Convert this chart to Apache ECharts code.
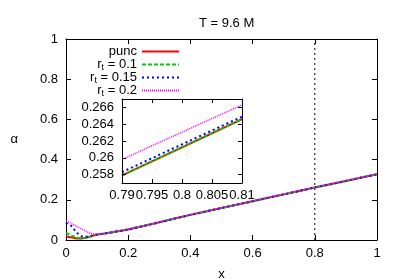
<!DOCTYPE html>
<html><head><meta charset="utf-8">
<script src="https://cdn.jsdelivr.net/npm/echarts@6/dist/echarts.min.js"></script>
<style>html,body{margin:0;padding:0;background:#fff}#c{width:399px;height:279px}</style>
</head><body><div id="c"></div>
<script>
// ---- data ----
const xMain   = [0, 0.01, 0.02, 0.03, 0.04, 0.05, 0.06, 0.07, 0.08, 0.1, 0.12, 0.15, 0.2, 0.25, 0.3, 0.4, 0.5, 0.6, 0.7, 0.8, 0.9, 1.0];
const yPunc   = [0.017, 0.015, 0.012, 0.009, 0.008, 0.008, 0.010, 0.013, 0.018, 0.026, 0.031, 0.039, 0.052, 0.070, 0.088, 0.125, 0.159, 0.193, 0.227, 0.261, 0.294, 0.327];
const yR01    = [0.036, 0.028, 0.020, 0.014, 0.010, 0.009, 0.010, 0.014, 0.018, 0.026, 0.031, 0.039, 0.052, 0.070, 0.088, 0.125, 0.159, 0.193, 0.227, 0.261, 0.294, 0.327];
const yR015   = [0.085, 0.078, 0.066, 0.045, 0.030, 0.019, 0.016, 0.018, 0.021, 0.028, 0.032, 0.039, 0.052, 0.070, 0.088, 0.125, 0.159, 0.193, 0.227, 0.2615, 0.294, 0.327];
const yR02    = [0.094, 0.088, 0.080, 0.072, 0.063, 0.055, 0.047, 0.039, 0.033, 0.029, 0.031, 0.040, 0.053, 0.071, 0.089, 0.126, 0.160, 0.194, 0.228, 0.263, 0.295, 0.328];
const xInset     = [0.79, 0.795, 0.8, 0.805, 0.81];
const insetPunc  = [0.2579, 0.25957, 0.26125, 0.26292, 0.2646];
const insetR01   = [0.2579, 0.25957, 0.26125, 0.26292, 0.2646];
const insetR015  = [0.2583, 0.25995, 0.2616, 0.26325, 0.2649];
const insetR02   = [0.2598, 0.26143, 0.26305, 0.26468, 0.2663];
const vlineX = [0.8, 0.8];
const vlineY = [0, 1];
const insetYTicks = [0.258, 0.26, 0.262, 0.264, 0.266];
const seriesNames = ['punc', 'r01', 'r015', 'r02'];
const legendLabels = {punc: 'punc', r01: 'r{s|t} = 0.1', r015: 'r{s|t} = 0.15', r02: 'r{s|t} = 0.2'};

const pair = (xs, ys) => xs.map((x, i) => [x, ys[i]]);
const FONT = 'Liberation Sans';
const styles = {
  punc: {color: '#ff0000', width: 2, type: 'solid'},
  r01:  {color: '#00cc00', width: 2, type: [4, 2]},
  r015: {color: '#0000ff', width: 2, type: [2, 3]},
  r02:  {color: '#ff00ff', width: 1.5, type: [1, 1]}
};
const mainY = {punc: yPunc, r01: yR01, r015: yR015, r02: yR02};
const insY = {punc: insetPunc, r01: insetR01, r015: insetR015, r02: insetR02};

const axCommon = {
  axisLine: {show: true, onZero: false, lineStyle: {color: '#000', width: 1}},
  axisTick: {show: true, inside: true, length: 5, lineStyle: {color: '#000'}},
  splitLine: {show: false},
  axisLabel: {color: '#000', fontFamily: FONT, fontSize: 13}
};
function ax(extra) { return Object.assign({}, JSON.parse(JSON.stringify(axCommon)), extra); }

const series = [];
series.push({type: 'line', name: 'vline', xAxisIndex: 0, yAxisIndex: 0, data: pair(vlineX, vlineY),
  symbol: 'none', lineStyle: {color: '#000', width: 1, type: [2, 3]}, silent: true, z: 1});
seriesNames.forEach(n => {
  series.push({type: 'line', name: n, xAxisIndex: 0, yAxisIndex: 0, data: pair(xMain, mainY[n]),
    symbol: 'none', smooth: 0.3, lineStyle: styles[n], itemStyle: {color: styles[n].color}, z: 3});
});
seriesNames.forEach(n => {
  series.push({type: 'line', name: n, xAxisIndex: 2, yAxisIndex: 2, data: pair(xInset, insY[n]),
    symbol: 'none', lineStyle: styles[n], itemStyle: {color: styles[n].color}, z: 5});
});

const fmt3 = v => parseFloat((+v).toFixed(3)).toString();

const option = {
  animation: false,
  backgroundColor: '#fff',
  title: {text: 'T = 9.6 M', left: 194, top: 12,
    textStyle: {fontFamily: FONT, fontSize: 13, fontWeight: 'normal', color: '#000'}},
  legend: {
    data: seriesNames, orient: 'vertical', align: 'right', right: 219, top: 44,
    itemWidth: 37, itemHeight: 12, itemGap: -2, padding: 0,
    selectedMode: false,
    itemStyle: {opacity: 0, color: 'transparent', borderWidth: 0},
    formatter: n => legendLabels[n],
    textStyle: {fontFamily: FONT, fontSize: 13, color: '#000', lineHeight: 15,
      rich: {s: {fontFamily: FONT, fontSize: 9, lineHeight: 9, padding: [6, 0, 0, 0], color: '#000'}}}
  },
  grid: [
    {left: 66, right: 22, top: 39, bottom: 39, show: false, containLabel: false, outerBoundsMode: 'none'},
    {left: 122, top: 99, width: 120, height: 84, show: true, backgroundColor: '#fff', borderWidth: 0, z: 4,
     containLabel: false, outerBoundsMode: 'none'}
  ],
  xAxis: [
    ax({type: 'value', gridIndex: 0, position: 'bottom', min: 0, max: 1, interval: 0.2,
        axisLabel: {color: '#000', fontFamily: FONT, fontSize: 13, margin: 7, formatter: v => fmt3(v)},
        name: 'x', nameLocation: 'middle', nameGap: 28,
        nameTextStyle: {fontFamily: FONT, fontSize: 13, color: '#000'}}),
    ax({type: 'value', gridIndex: 0, position: 'top', min: 0, max: 1, interval: 0.2, axisLabel: {show: false}}),
    ax({type: 'value', gridIndex: 1, position: 'bottom', min: 0.79, max: 0.81, interval: 0.005, z: 6,
        axisTick: {show: true, inside: true, length: 4, lineStyle: {color: '#000'}},
        axisLabel: {color: '#000', fontFamily: FONT, fontSize: 13, margin: 6, formatter: v => fmt3(v)}}),
    ax({type: 'value', gridIndex: 1, position: 'top', min: 0.79, max: 0.81, interval: 0.005, z: 6,
        axisTick: {show: true, inside: true, length: 4, lineStyle: {color: '#000'}},
        axisLabel: {show: false}})
  ],
  yAxis: [
    ax({type: 'value', gridIndex: 0, position: 'left', min: 0, max: 1, interval: 0.2,
        axisLabel: {color: '#000', fontFamily: FONT, fontSize: 13, margin: 8, formatter: v => fmt3(v)},
        name: 'α', nameLocation: 'middle', nameGap: 48, nameRotate: 0,
        nameTextStyle: {fontFamily: FONT, fontSize: 13, color: '#000', padding: [4, 0, 0, 0]}}),
    ax({type: 'value', gridIndex: 0, position: 'right', min: 0, max: 1, interval: 0.2, axisLabel: {show: false}}),
    ax({type: 'value', gridIndex: 1, position: 'left', min: 0.257, max: 0.267, z: 6,
        axisTick: {show: true, inside: true, length: 4, customValues: insetYTicks, lineStyle: {color: '#000'}},
        axisLabel: {color: '#000', fontFamily: FONT, fontSize: 13, margin: 8, customValues: insetYTicks,
          formatter: v => fmt3(v)}}),
    ax({type: 'value', gridIndex: 1, position: 'right', min: 0.257, max: 0.267, z: 6,
        axisTick: {show: true, inside: true, length: 4, customValues: insetYTicks, lineStyle: {color: '#000'}},
        axisLabel: {show: false, customValues: insetYTicks}})
  ],
  series: series
};
const chart = echarts.init(document.getElementById('c'), null, {renderer: 'canvas'});
chart.setOption(option);
</script></body></html>
